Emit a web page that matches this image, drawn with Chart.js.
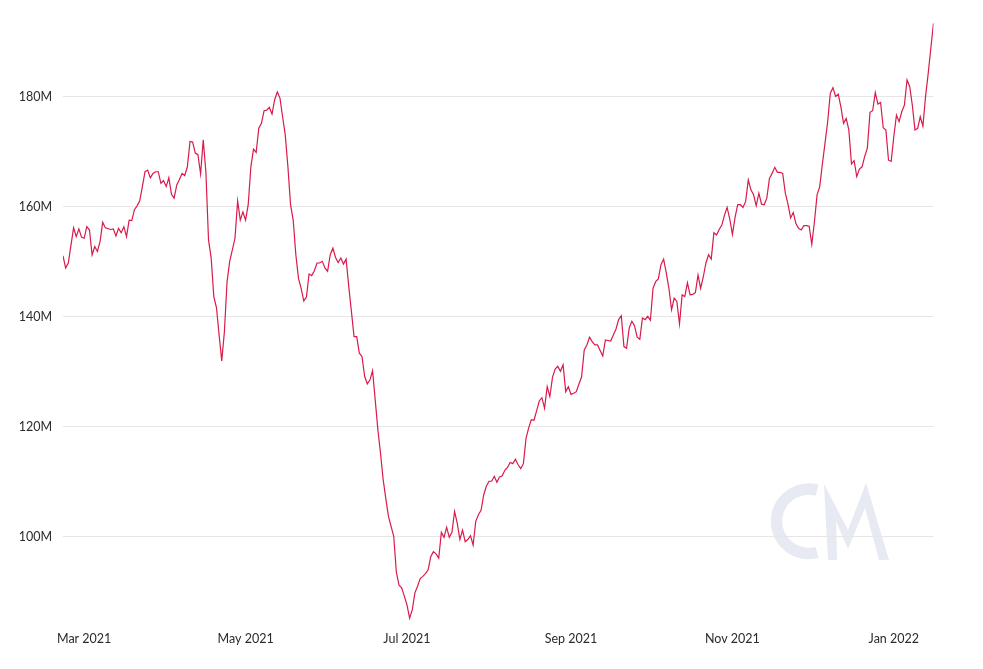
<!DOCTYPE html>
<html>
<head>
<meta charset="utf-8">
<script src="https://cdn.jsdelivr.net/npm/chart.js@4.4.1/dist/chart.umd.min.js"></script>
<style>
html,body{margin:0;padding:0;background:#fff;}
#wrap{width:983px;height:669px;position:relative;}
</style>
</head>
<body>
<div id="wrap"><canvas id="c"></canvas></div>
<script>
// Day offsets from 2021-02-21 and values (millions)
const startDate = '2021-02-21';
const days = [0,1,2,4,5,6,7,8,9,10,11,12,13,14,15,16,18,19,20,21,22,23,24,25,26,27,28,29,30,31,32,33,34,35,36,37,38,39,40,41,42,43,44,45,46,47,48,49,50,51,52,53,54,55,56,57,58,59,60,61,62,63,64,65,66,67,68,69,70,71,72,73,74,75,76,77,78,79,80,81,82,83,84,85,86,87,88,89,90,91,92,93,94,95,96,97,98,99,100,101,102,103,104,105,106,107,108,109,110,111,112,113,114,115,116,117,118,119,120,121,122,123,124,125,126,127,128,129,130,131,132,133,134,135,136,137,138,139,140,141,142,143,144,145,146,147,148,149,150,151,152,153,154,155,156,157,158,159,160,161,162,163,164,165,166,167,168,169,170,171,172,173,174,175,176,177,178,179,180,181,182,183,184,185,186,187,188,189,190,191,192,193,194,195,196,197,198,199,200,201,202,203,204,205,206,207,208,209,210,211,212,213,214,215,216,217,218,219,220,221,222,223,224,225,226,227,228,229,230,231,232,233,234,235,236,237,238,239,240,241,242,243,244,245,246,247,248,249,250,251,252,253,254,255,256,257,258,259,260,261,262,263,264,265,266,267,268,269,270,271,272,273,274,275,276,277,278,279,280,281,282,283,284,285,286,287,288,289,290,291,292,293,294,295,296,297,298,299,300,301,302,303,304,305,306,307,308,309,310,311,312,313,314,315,316,317,318,319,320,321,322,323,324,325,326,327,328,329];
const values = [151.1,148.9,149.8,156.2,154.6,156.0,154.5,154.3,156.4,155.8,151.3,152.8,151.9,153.7,157.2,156.2,155.9,156.0,154.7,156.1,155.3,156.4,154.6,157.6,157.5,159.5,160.2,161.1,163.7,166.4,166.7,165.3,166.1,166.4,166.4,164.3,164.8,163.7,165.3,162.3,161.6,164.0,165.0,166.1,165.7,167.3,171.9,171.8,169.8,169.5,166.0,172.2,166.4,154.0,150.7,143.7,141.7,136.7,132.0,137.3,146.4,150.1,152.2,154.3,161.1,157.6,159.1,157.6,160.4,167.3,170.5,169.9,174.3,175.2,177.5,177.6,178.1,176.9,179.5,180.9,179.8,176.4,173.1,167.3,160.4,157.6,151.3,147.0,145.2,142.9,143.6,147.8,147.5,148.4,149.8,149.8,150.1,148.9,148.3,151.3,152.5,150.8,149.9,150.7,149.6,150.5,145.5,141.0,136.4,136.4,133.4,132.8,129.2,127.8,128.5,130.2,124.9,119.5,115.2,110.4,107.0,103.7,101.9,100.1,93.5,91.2,90.7,89.2,87.6,85.2,86.7,89.8,91.0,92.4,92.8,93.3,94.0,96.4,97.3,96.9,96.1,100.8,99.9,101.7,99.9,100.8,104.6,102.5,99.5,101.2,99.1,99.5,100.2,98.5,102.8,104.0,104.8,107.6,109.2,110.1,110.1,111.0,109.9,110.9,111.1,112.1,112.6,113.5,113.3,114.1,113.1,112.4,113.3,117.9,119.8,121.3,121.2,122.9,124.7,125.3,123.4,127.3,125.5,129.0,130.5,131.0,130.1,131.3,126.4,127.3,125.9,126.1,126.4,127.8,129.1,134.0,134.9,136.3,135.5,134.9,134.9,133.9,132.9,135.8,135.7,135.6,136.7,137.8,139.5,140.2,134.6,134.3,138.0,139.2,138.4,136.3,135.9,139.8,139.5,140.1,139.4,145.2,146.4,146.9,149.5,150.5,148.0,145.2,141.3,143.4,142.8,138.7,144.0,143.7,146.2,144.0,144.1,144.4,147.6,145.2,147.3,149.8,151.3,150.5,155.3,154.9,155.9,156.7,158.5,159.9,157.8,155.0,158.1,160.4,160.4,159.9,161.0,164.9,163.1,162.2,160.2,162.5,160.5,160.4,161.6,165.2,166.1,167.2,166.3,166.3,166.1,162.5,160.5,158.0,159.0,157.0,156.1,155.8,156.6,156.6,156.5,153.2,157.3,162.2,163.7,167.8,171.6,175.5,180.7,181.7,180.1,180.5,178.2,175.2,176.1,174.0,167.8,168.4,165.5,166.9,167.3,169.2,170.7,177.2,177.5,180.8,178.7,179.0,174.4,174.0,168.5,168.3,172.8,176.7,175.5,177.3,178.5,183.1,181.9,178.5,174.0,174.3,176.4,174.7,180.1,184.3,188.9,193.4];

const yTicks = [100, 120, 140, 160, 180];
const xTickDays = [8, 69, 130, 192, 253, 314];
const xTickLabels = ['Mar 2021', 'May 2021', 'Jul 2021', 'Sep 2021', 'Nov 2021', 'Jan 2022'];
const xMin = 0, xMax = 329;
const yMin = 84.5, yMax = 194;

const points = days.map((d, i) => ({ x: d, y: values[i] }));

const watermark = {
  id: 'watermark',
  beforeDraw(chart) {
    const { ctx, chartArea } = chart;
    const ax = chartArea.right, ay = chartArea.bottom;
    ctx.save();
    ctx.fillStyle = '#e7e9f3';
    // C
    const cx = ax - 124.8, cy = ay - 100.7, R = 38, r = 26.5;
    const a = 75 * Math.PI / 180;
    ctx.beginPath();
    ctx.arc(cx, cy, R, -a, a, true);
    ctx.arc(cx, cy, r, a, -a, false);
    ctx.closePath();
    ctx.fill();
    // M
    const m = [[824,484],[848,530],[866,483],[889,560],[879,560],[865,508],[848,549],[836,521],[837,560],[828,560]];
    ctx.beginPath();
    m.forEach(([x, y], i) => {
      const px = ax + (x - 933.5), py = ay + (y - 622);
      if (i === 0) ctx.moveTo(px, py); else ctx.lineTo(px, py);
    });
    ctx.closePath();
    ctx.fill();
    ctx.restore();
  }
};

new Chart(document.getElementById('c'), {
  type: 'line',
  data: {
    datasets: [{
      data: points,
      borderColor: '#d91a4a',
      borderWidth: 1.2,
      pointRadius: 0,
      tension: 0,
      fill: false
    }]
  },
  options: {
    responsive: true,
    maintainAspectRatio: false,
    animation: false,
    events: [],
    layout: { padding: { top: 20, right: 49.5, bottom: 14, left: 0 } },
    plugins: { legend: { display: false }, tooltip: { enabled: false } },
    scales: {
      x: {
        type: 'linear',
        min: xMin,
        max: xMax,
        grid: { display: false, drawTicks: false },
        border: { display: false },
        afterBuildTicks(scale) { scale.ticks = xTickDays.map(v => ({ value: v })); },
        ticks: {
          autoSkip: false,
          maxRotation: 0,
          padding: 9,
          color: '#2b2b2b',
          font: { family: 'Lato', size: 12.5 },
          callback(v) { const i = xTickDays.indexOf(v); return i >= 0 ? xTickLabels[i] : ''; }
        }
      },
      y: {
        type: 'linear',
        min: yMin,
        max: yMax,
        grid: { color: '#e6e6e6', lineWidth: 1, drawTicks: false },
        border: { display: false },
        afterBuildTicks(scale) { scale.ticks = yTicks.map(v => ({ value: v })); },
        afterFit(scale) { scale.width = 63; },
        ticks: {
          padding: 11,
          color: '#2b2b2b',
          font: { family: 'Lato', size: 12.5 },
          callback(v) { return v + 'M'; }
        }
      }
    }
  },
  plugins: [watermark]
});
</script>
</body>
</html>
